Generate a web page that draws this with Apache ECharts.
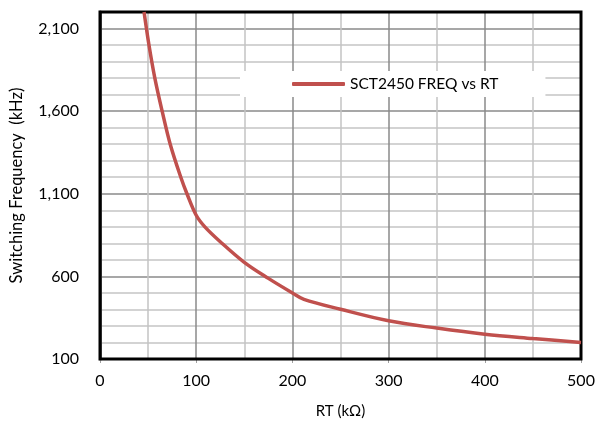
<!DOCTYPE html>
<html>
<head>
<meta charset="utf-8">
<script src="https://cdn.jsdelivr.net/npm/echarts@6/dist/echarts.min.js"></script>
<style>
html,body{margin:0;padding:0;background:#fff;}
#chart{width:605px;height:425px;}
</style>
</head>
<body>
<div id="chart"></div>
<script>
// RT in kOhm
var rtValues = [45.8, 50.9, 57, 64.6, 73, 84, 90.4, 100, 109, 125, 150, 175, 200, 212, 250, 300, 350, 400, 450, 500];
// Switching frequency in kHz
var freqValues = [2200, 2000, 1800, 1600, 1400, 1200, 1100, 970, 900, 810, 685, 588, 500, 461, 401, 331, 287, 250, 224, 200];
var seriesName = 'SCT2450 FREQ vs RT';
var xAxisName = 'RT (kΩ)';
var yAxisName = 'Switching Frequency  (kHz)';
var yLabelValues = [100, 600, 1100, 1600, 2100];

var data = rtValues.map(function (x, i) { return [x, freqValues[i]]; });
var FONT = 'Lato';

var chart = echarts.init(document.getElementById('chart'));
chart.setOption({
  animation: false,
  textStyle: { fontFamily: FONT },
  grid: {
    left: 97, right: 24, top: 12, bottom: 66, z: 3,
    show: true, borderColor: '#000', borderWidth: 3, backgroundColor: 'transparent'
  },
  legend: {
    show: true,
    left: 240, top: 71, z: 4,
    backgroundColor: '#fff',
    padding: [5, 47, 5, 52],
    itemWidth: 53, itemHeight: 4, itemGap: 5,
    icon: 'roundRect',
    textStyle: { fontFamily: FONT, fontSize: 15.5, color: '#000' },
    data: [{ name: seriesName, itemStyle: { color: '#c0504d' } }]
  },
  xAxis: {
    type: 'value',
    min: 0, max: 500, interval: 100,
    name: xAxisName, nameLocation: 'middle', nameGap: 45,
    nameTextStyle: { fontFamily: FONT, fontSize: 15, color: '#000' },
    axisLine: { show: true, onZero: false, lineStyle: { color: '#7f7f7f', width: 2 } },
    axisTick: { show: true, length: 4, lineStyle: { color: '#a0a0a0' } },
    axisLabel: { fontFamily: FONT, fontSize: 16, color: '#000', margin: 14 },
    splitLine: { show: true, lineStyle: { color: '#8a8a8a', width: 1.5 } },
    minorTick: { show: false, splitNumber: 2 },
    minorSplitLine: { show: true, lineStyle: { color: '#c4c4c4', width: 1.5 } }
  },
  yAxis: {
    type: 'value',
    min: 100, max: 2200, interval: 100,
    name: yAxisName, nameLocation: 'middle', nameGap: 75, nameRotate: 90,
    nameTextStyle: { fontFamily: FONT, fontSize: 16.5, color: '#000' },
    axisLine: { show: true, lineStyle: { color: '#595959', width: 3 } },
    axisTick: { show: false },
    axisLabel: {
      fontFamily: FONT, fontSize: 16, color: '#000', margin: 21,
      formatter: function (v) {
        return yLabelValues.indexOf(v) >= 0 ? v.toLocaleString('en-US') : '';
      }
    },
    splitLine: {
      show: true,
      lineStyle: { color: ['#8a8a8a', '#c4c4c4', '#c4c4c4', '#c4c4c4', '#c4c4c4'], width: 1.5 }
    }
  },
  series: [{
    name: seriesName,
    type: 'line',
    data: data,
    smooth: 0.35,
    showSymbol: false,
    symbol: 'none',
    clip: true,
    lineStyle: { color: '#c0504d', width: 3.5 },
    itemStyle: { color: '#c0504d' }
  }]
});
</script>
</body>
</html>
